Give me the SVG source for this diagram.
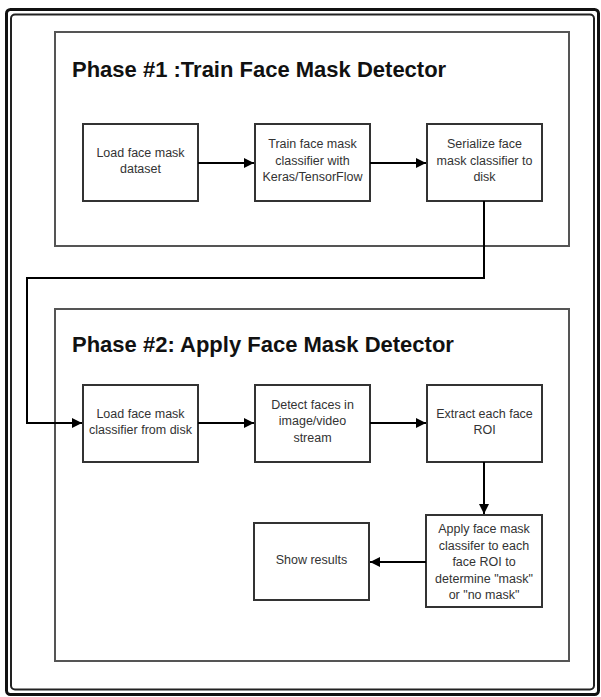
<svg xmlns="http://www.w3.org/2000/svg" width="601" height="697" viewBox="0 0 601 697">
  <defs>
    <marker id="arrow" viewBox="0 0 10 10" refX="10" refY="5" markerWidth="10" markerHeight="10" markerUnits="userSpaceOnUse" orient="auto">
      <path d="M0,0 L10,5 L0,10 z" fill="#000"/>
    </marker>
  </defs>
  <style>
    .frame-outer { fill: none; stroke: #111; stroke-width: 3; }
    .frame-inner { fill: none; stroke: #222; stroke-width: 2; }
    .phase { fill: none; stroke: #555; stroke-width: 2; }
    .box { fill: #fff; stroke: #333; stroke-width: 2; }
    .title { font-family: "Liberation Sans", Arial, sans-serif; font-weight: bold; font-size: 22px; fill: #111; }
    .label { font-family: "Liberation Sans", Arial, sans-serif; font-size: 12.5px; fill: #333; text-anchor: middle; }
    .conn { fill: none; stroke: #000; stroke-width: 2; }
  </style>
  <rect width="601" height="697" fill="#fff"/>
  <rect class="frame-outer" x="6.5" y="9.5" width="592" height="685" rx="4"/>
  <rect class="frame-inner" x="11" y="14.5" width="583" height="675" rx="4"/>

  <g id="phase1">
    <rect class="phase" x="55" y="32" width="514" height="214"/>
    <text class="title" x="72" y="77">Phase #1 :Train Face Mask Detector</text>
  </g>
  <g id="phase2">
    <rect class="phase" x="55" y="309" width="514" height="352"/>
    <text class="title" x="72" y="352">Phase #2: Apply Face Mask Detector</text>
  </g>

  <g id="load-dataset">
    <rect class="box" x="83" y="124" width="115" height="77"/>
    <text class="label" x="140.5" y="157">Load face mask</text>
    <text class="label" x="140.5" y="173">dataset</text>
  </g>
  <g id="train">
    <rect class="box" x="255" y="124" width="115" height="77"/>
    <text class="label" x="312.5" y="148">Train face mask</text>
    <text class="label" x="312.5" y="164.5">classifier with</text>
    <text class="label" x="312.5" y="181">Keras/TensorFlow</text>
  </g>
  <g id="serialize">
    <rect class="box" x="427" y="124" width="115" height="77"/>
    <text class="label" x="484.5" y="148">Serialize face</text>
    <text class="label" x="484.5" y="164.5">mask classifier to</text>
    <text class="label" x="484.5" y="181">disk</text>
  </g>

  <g id="load-classifier">
    <rect class="box" x="83" y="385" width="115" height="77"/>
    <text class="label" x="140.5" y="417.5">Load face mask</text>
    <text class="label" x="140.5" y="433.5">classifier from disk</text>
  </g>
  <g id="detect">
    <rect class="box" x="255" y="385" width="115" height="77"/>
    <text class="label" x="312.5" y="408.5">Detect faces in</text>
    <text class="label" x="312.5" y="425">image/video</text>
    <text class="label" x="312.5" y="441.5">stream</text>
  </g>
  <g id="extract">
    <rect class="box" x="427" y="385" width="115" height="77"/>
    <text class="label" x="484.5" y="417.5">Extract each face</text>
    <text class="label" x="484.5" y="433.5">ROI</text>
  </g>
  <g id="apply">
    <rect class="box" x="426" y="515" width="116" height="92"/>
    <text class="label" x="484" y="533">Apply face mask</text>
    <text class="label" x="484" y="549.5">classifer to each</text>
    <text class="label" x="484" y="566">face ROI to</text>
    <text class="label" x="484" y="582.5">determine "mask"</text>
    <text class="label" x="484" y="599">or "no mask"</text>
  </g>
  <g id="show">
    <rect class="box" x="254" y="523" width="115" height="77"/>
    <text class="label" x="311.5" y="564">Show results</text>
  </g>

  <g id="connectors">
    <line class="conn" x1="198" y1="163" x2="254" y2="163" marker-end="url(#arrow)"/>
    <line class="conn" x1="370" y1="163" x2="426" y2="163" marker-end="url(#arrow)"/>
    <polyline class="conn" points="484,201 484,278 27,278 27,423 82,423" marker-end="url(#arrow)"/>
    <line class="conn" x1="198" y1="423" x2="254" y2="423" marker-end="url(#arrow)"/>
    <line class="conn" x1="370" y1="423" x2="426" y2="423" marker-end="url(#arrow)"/>
    <line class="conn" x1="484" y1="462" x2="484" y2="514" marker-end="url(#arrow)"/>
    <line class="conn" x1="426" y1="562" x2="370" y2="562" marker-end="url(#arrow)"/>
  </g>
</svg>
